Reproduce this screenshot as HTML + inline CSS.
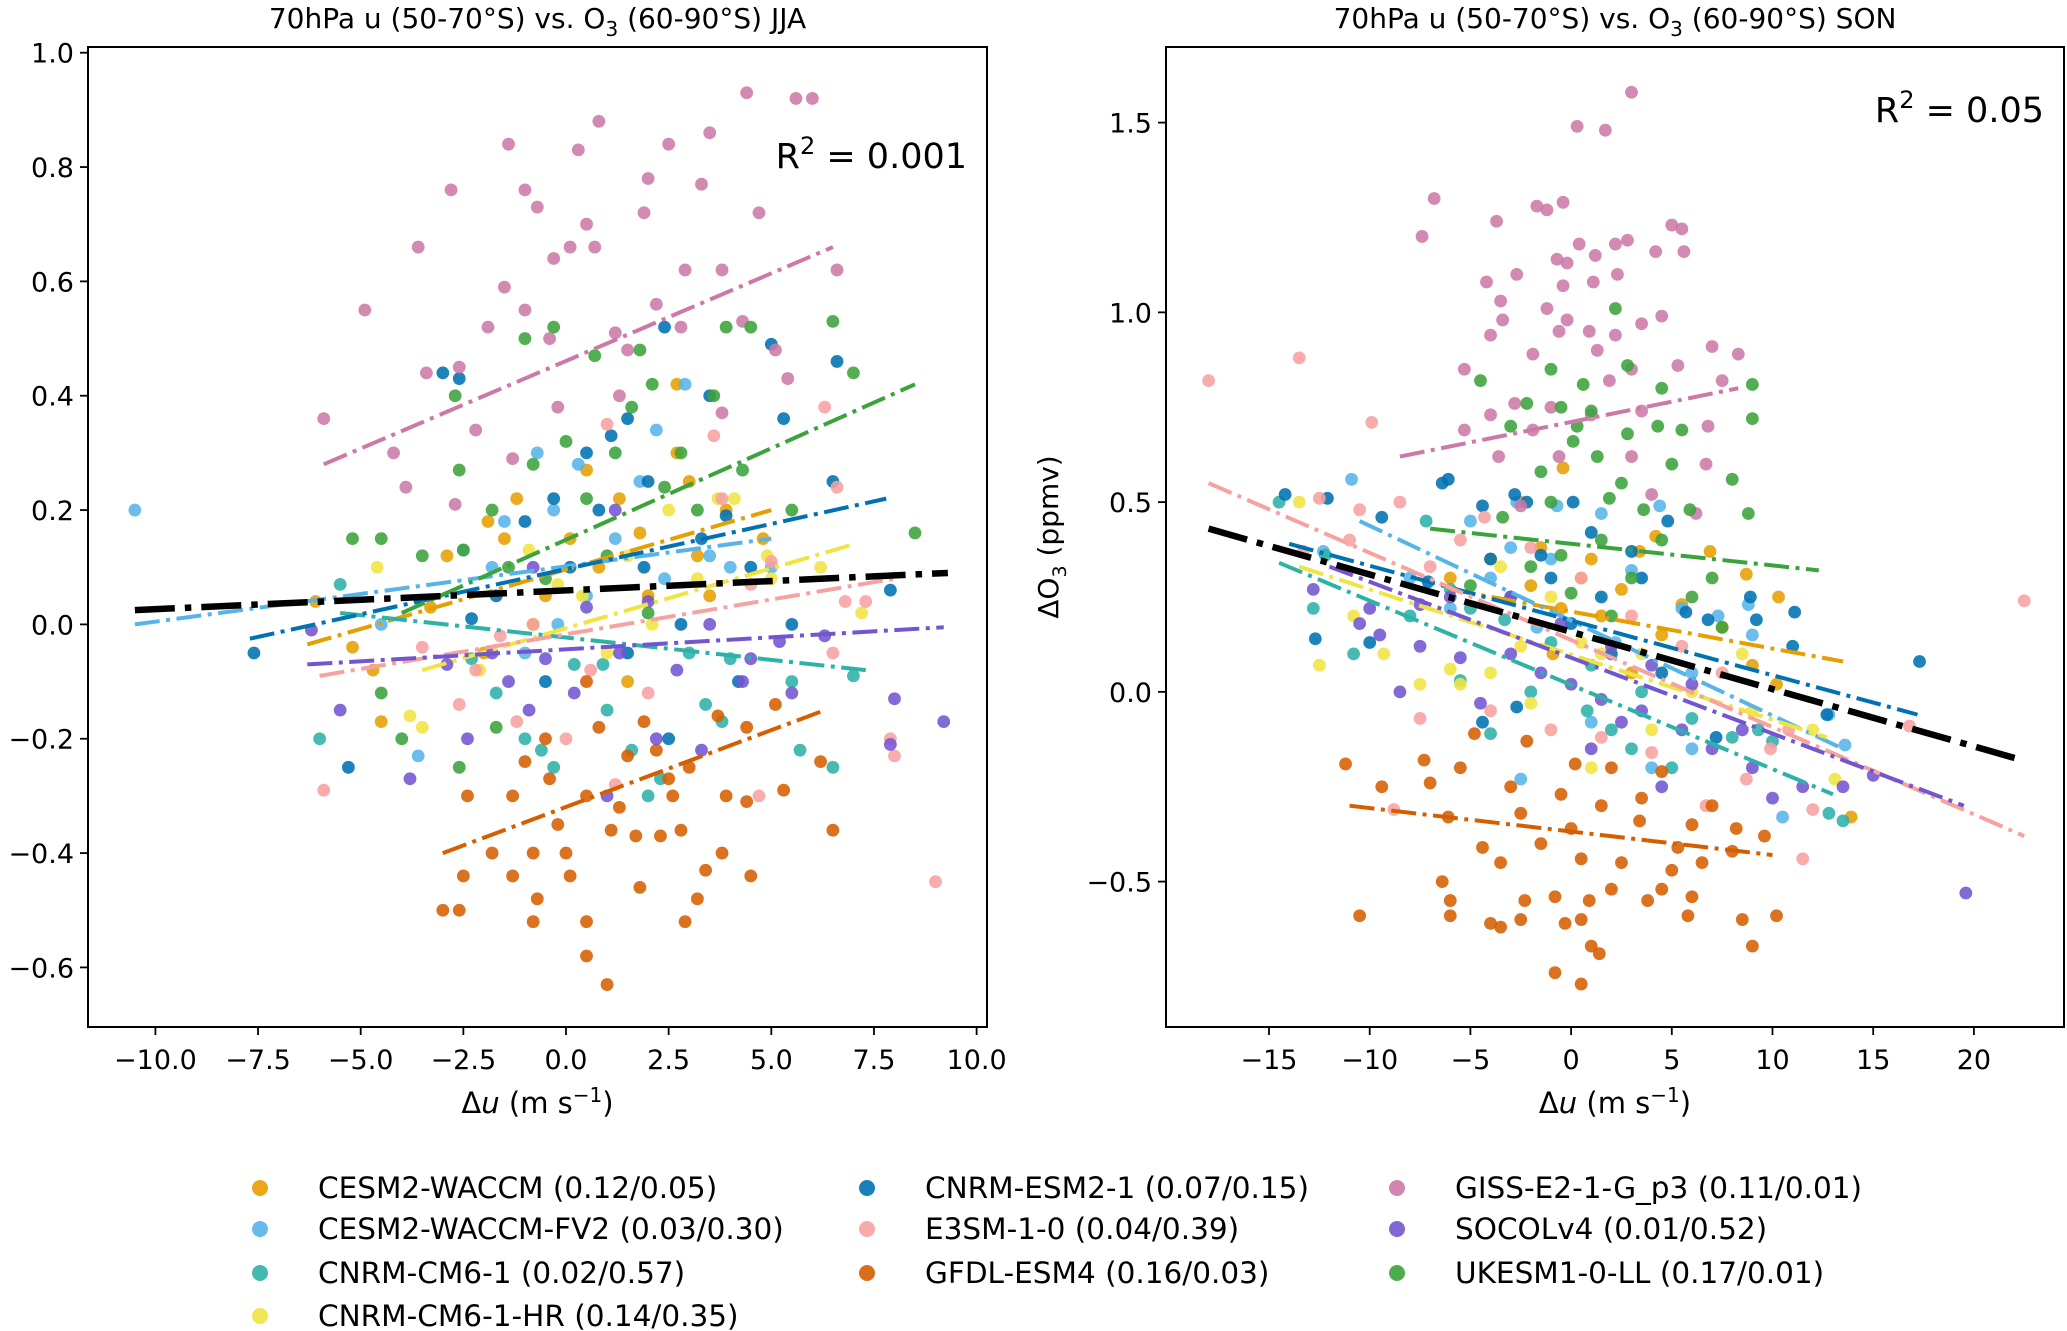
<!DOCTYPE html>
<html><head><meta charset="utf-8">
<style>
html,body{margin:0;padding:0;background:#fff;}
svg{display:block;font-family:"DejaVu Sans","Liberation Sans",sans-serif;}
</style></head>
<body>
<svg id="chart" width="2067" height="1331" viewBox="0 0 2067 1331" xmlns="http://www.w3.org/2000/svg"></svg>
<script>
const models = ["CESM2-WACCM (0.12/0.05)","CESM2-WACCM-FV2 (0.03/0.30)","CNRM-CM6-1 (0.02/0.57)","CNRM-CM6-1-HR (0.14/0.35)","CNRM-ESM2-1 (0.07/0.15)","E3SM-1-0 (0.04/0.39)","GFDL-ESM4 (0.16/0.03)","GISS-E2-1-G_p3 (0.11/0.01)","SOCOLv4 (0.01/0.52)","UKESM1-0-LL (0.17/0.01)"];
const colors = ["#E69F00","#56B4E9","#2DB2A8","#F0E442","#0072B2","#F7A1A1","#D55E00","#CC79A7","#7355D0","#3BA33B"];
const jjaPts = [
[[-5.2,-0.04],[-4.5,-0.17],[-2.9,0.12],[-1.9,0.18],[-1.5,0.15],[0.1,0.15],[1.3,0.22],[2.7,0.3],[2.7,0.42],[3,0.25],[3.9,0.2],[0.8,0.1],[-0.5,0.05],[2,0.05],[-6.1,0.04],[-4.7,-0.08],[-2,-0.05],[1.5,-0.1],[3.5,0.05],[4.8,0.15],[-3.3,0.03],[-1.2,0.22],[0.5,0.27],[1.8,0.16],[3.2,0.12],[-0.8,0.0]],
[[-10.5,0.2],[2.9,0.42],[-0.7,0.3],[0.3,0.28],[1.8,0.25],[3.5,0.12],[-2.5,0.13],[-1.5,0.18],[0.5,0.05],[2.4,0.08],[-4.5,0.0],[-1,-0.05],[4,0.1],[-3.6,-0.23],[1.2,0.15],[-0.2,0.0],[5,0.1],[-0.3,0.2],[2.2,0.34],[-1.8,0.1]],
[[-5.5,0.07],[-6,-0.2],[-0.6,-0.22],[1,-0.15],[2,-0.3],[3.8,-0.17],[5.7,-0.22],[6.5,-0.25],[4,-0.06],[7,-0.09],[3,-0.05],[0.2,-0.07],[-1,-0.2],[-2.3,-0.06],[2.3,-0.27],[-0.3,-0.25],[5.5,-0.1],[1.6,-0.22],[0.9,-0.07],[-1.7,-0.12],[3.4,-0.14]],
[[-4.6,0.1],[4.1,0.22],[4.9,0.12],[6.2,0.1],[7.2,0.02],[-3.8,-0.16],[-2.1,-0.08],[0.4,0.05],[1.5,0.12],[2.5,0.2],[-0.9,0.13],[3.2,0.08],[5,0.08],[-3.5,-0.18],[1,-0.05],[3.7,0.22],[-0.2,0.07],[2.1,0.0]],
[[-7.6,-0.05],[-5.3,-0.25],[-3,0.44],[-2.6,0.43],[2.4,0.52],[5,0.49],[3.5,0.4],[6.6,0.46],[5.3,0.36],[0.5,0.3],[1.1,0.33],[2,0.25],[-1,0.18],[3.3,0.15],[4.5,0.1],[6.5,0.25],[0.1,0.1],[-1.7,0.05],[2.8,0.0],[4.2,-0.1],[5.5,0.0],[7.9,0.06],[1.5,-0.05],[-0.5,-0.1],[2.5,-0.2],[-2.3,0.01],[1.5,0.36],[0.8,0.2],[-0.3,0.22],[3.9,0.19],[1.9,0.1]],
[[-5.9,-0.29],[-2.6,-0.14],[-2.2,-0.08],[-1.2,-0.17],[-3.5,-0.04],[0,-0.2],[1.2,-0.28],[3.8,0.22],[3.6,0.33],[5,0.11],[6.3,0.38],[6.6,0.24],[7.3,0.04],[7.9,-0.2],[8,-0.23],[9,-0.45],[6.5,-0.05],[4.7,-0.3],[2,-0.12],[-0.8,0.0],[1,0.35],[4.5,0.07],[6.8,0.04],[-1.6,-0.02],[0.6,-0.08]],
[[1,-0.63],[0.5,-0.58],[0.5,-0.52],[-0.8,-0.52],[2.9,-0.52],[-3,-0.5],[-2.6,-0.5],[-2.5,-0.44],[-1.3,-0.44],[-0.7,-0.48],[0.1,-0.44],[1.8,-0.46],[3.2,-0.48],[3.4,-0.43],[4.5,-0.44],[-0.8,-0.4],[0,-0.4],[-1.8,-0.4],[1.7,-0.37],[2.3,-0.37],[3.8,-0.4],[-2.4,-0.3],[-1.3,-0.3],[0.5,-0.3],[1.3,-0.32],[2.6,-0.3],[3.9,-0.3],[4.4,-0.31],[5.3,-0.29],[6.5,-0.36],[-0.4,-0.27],[1.5,-0.23],[2.2,-0.22],[3,-0.25],[4.4,-0.18],[5.1,-0.14],[6.2,-0.24],[-1,-0.24],[0.8,-0.18],[1.9,-0.17],[3.7,-0.16],[0.5,-0.1],[-0.2,-0.35],[1.1,-0.36],[2.8,-0.36],[-0.5,-0.2],[2.5,-0.27]],
[[4.4,0.93],[5.6,0.92],[6,0.92],[0.8,0.88],[-1.4,0.84],[2.5,0.84],[3.5,0.86],[-2.8,0.76],[-1,0.76],[-0.7,0.73],[2,0.78],[3.3,0.77],[0.3,0.83],[-3.6,0.66],[-4.9,0.55],[0.5,0.7],[1.9,0.72],[4.7,0.72],[-0.3,0.64],[-1.5,0.59],[2.9,0.62],[3.8,0.62],[-0.4,0.5],[1.5,0.48],[2.8,0.52],[5.1,0.48],[-2.6,0.45],[-3.4,0.44],[-5.9,0.36],[-4.2,0.3],[-3.9,0.24],[-2.2,0.34],[1.3,0.4],[4.3,0.53],[-1,0.55],[0.1,0.66],[5.4,0.43],[-1.3,0.29],[-0.2,0.38],[3.8,0.37],[-2.7,0.21],[6.6,0.62],[2.2,0.56],[0.7,0.66],[-1.9,0.52],[1.2,0.51]],
[[-5.5,-0.15],[-3.8,-0.27],[-2.4,-0.2],[-1.4,-0.1],[-0.5,-0.06],[0.2,-0.12],[1.3,-0.05],[2.2,-0.2],[3.3,-0.22],[4.3,-0.1],[5.2,-0.03],[6.3,-0.02],[7.9,-0.21],[8,-0.13],[9.2,-0.17],[-6.2,-0.01],[-0.8,0.1],[1.2,0.2],[2,0.04],[3.5,0.0],[5.5,-0.12],[-2.9,-0.07],[0.5,0.03],[1,-0.3],[4.5,-0.06],[-1.8,-0.05],[-0.9,-0.15],[2.7,-0.08]],
[[6.5,0.53],[7,0.44],[-1,0.5],[-0.3,0.52],[4.5,0.52],[3.9,0.52],[0.7,0.47],[1.8,0.48],[2.1,0.42],[-2.7,0.4],[3.6,0.4],[4.3,0.27],[-2.6,0.27],[-4.5,0.15],[-5.2,0.15],[-3.5,0.12],[-0.8,0.28],[1.2,0.3],[0.5,0.22],[2.8,0.3],[3.2,0.2],[-1.8,0.2],[5.5,0.2],[8.5,0.16],[-2.5,0.13],[-4.5,-0.12],[-4,-0.2],[-1.7,-0.18],[-2.6,-0.25],[1,0.12],[-0.5,0.08],[2,0.02],[0,0.32],[1.6,0.38],[-1.4,0.1],[2.4,0.24]]
];
const sonPts = [
[[-0.4,0.59],[-2.5,0.5],[-1.5,0.38],[1,0.35],[3.4,0.37],[4.2,0.41],[6.9,0.37],[8.7,0.31],[10.3,0.25],[13.9,-0.33],[10.2,0.02],[7.5,0.17],[5.5,0.23],[2.5,0.27],[-0.5,0.22],[-4,0.35],[-6,0.3],[4.5,0.15],[1.5,0.2],[9,0.07],[-0.9,0.1],[3,0.05],[0.5,0.3],[-2,0.28]],
[[-10.9,0.56],[-2.7,0.5],[4.4,0.49],[-0.7,0.49],[1.5,0.47],[-5,0.45],[-3,0.38],[-1,0.35],[3,0.32],[5.5,0.22],[7.3,0.2],[8.8,0.23],[9,0.15],[-8,0.3],[-6,0.22],[-1.7,0.17],[2.2,0.13],[6,0.05],[12.8,-0.06],[13.6,-0.14],[10.5,-0.33],[6,-0.15],[1,-0.08],[-2.5,-0.23],[4,-0.2],[-12.3,0.37],[-4,0.3]],
[[-14.5,0.5],[-12.8,0.22],[-10.8,0.1],[-12.2,0.36],[-7.2,0.45],[-6,0.27],[-5,0.22],[-3.3,0.19],[-1,0.13],[1,0.07],[3.5,0.0],[6,-0.07],[8,-0.12],[10,-0.13],[12.8,-0.32],[13.5,-0.34],[-5.5,0.03],[-2,0.0],[2,-0.1],[5,-0.2],[9.3,-0.1],[-8,0.2],[-4,-0.11],[0.8,-0.05],[3,-0.15]],
[[-13.5,0.5],[-12.5,0.07],[-9.3,0.1],[-6,0.06],[-4,0.05],[-3.5,0.33],[-1,0.25],[0.5,0.13],[1.5,0.1],[3.5,0.1],[6,0.0],[8.5,0.1],[9,-0.05],[12,-0.1],[13.1,-0.23],[-2,-0.03],[1,-0.2],[4,-0.1],[-7.5,0.02],[-5.5,0.02],[-2.5,0.12],[-10.8,0.2]],
[[-14.2,0.52],[-12.1,0.51],[-9.4,0.46],[-6.4,0.55],[-6.1,0.56],[-4.4,0.49],[-2.8,0.52],[-2.2,0.5],[0.1,0.5],[-12.7,0.14],[-10,0.13],[-7.1,0.29],[-4,0.35],[-1.5,0.36],[1,0.42],[3,0.37],[4.8,0.45],[5.7,0.21],[6.8,0.19],[8.9,0.25],[9.2,0.19],[11.1,0.21],[11,0.12],[17.3,0.08],[12.7,-0.06],[4.5,0.05],[2,0.1],[-1,0.3],[-4.4,-0.08],[-2.7,-0.04],[0,0.18],[7.2,-0.12],[3.5,0.3],[-3,0.25],[1.5,0.25]],
[[-18,0.82],[-13.5,0.88],[-9.9,0.71],[-12.5,0.51],[-8.5,0.5],[-10.5,0.48],[-11,0.4],[-13.3,0.37],[-7,0.33],[-4.3,0.46],[-2,0.38],[0.5,0.3],[3,0.2],[5.5,0.12],[7.5,0.05],[10.8,-0.1],[12,-0.31],[11.5,-0.44],[16.8,-0.09],[22.5,0.24],[8.7,-0.23],[6.7,-0.3],[4,-0.16],[1.5,-0.12],[-1,-0.1],[-4,-0.05],[-7.5,-0.07],[-5.5,0.4],[9.9,-0.15],[-8.8,-0.31]],
[[0.5,-0.77],[-0.8,-0.74],[1.4,-0.69],[9,-0.67],[1,-0.67],[-2.5,-0.6],[-10.5,-0.59],[-6,-0.59],[-3.5,-0.62],[-4,-0.61],[-0.3,-0.61],[0.5,-0.6],[5.8,-0.59],[8.5,-0.6],[10.2,-0.59],[-6,-0.55],[-2.3,-0.55],[-0.8,-0.54],[0.9,-0.55],[3.8,-0.55],[6,-0.54],[-6.4,-0.5],[2,-0.52],[4.5,-0.52],[-4.4,-0.41],[-3.5,-0.45],[-1.5,-0.4],[0.5,-0.44],[2.5,-0.45],[5,-0.47],[6.5,-0.45],[8,-0.42],[-7,-0.24],[-5.5,-0.2],[-3,-0.25],[-0.5,-0.27],[1.5,-0.3],[3.5,-0.28],[7,-0.3],[-11.2,-0.19],[-9.4,-0.25],[-7.3,-0.18],[-4.8,-0.11],[-2.2,-0.13],[0.2,-0.19],[2,-0.2],[4.5,-0.21],[6,-0.35],[8.2,-0.36],[-6.1,-0.33],[-2.5,-0.32],[0,-0.36],[3.4,-0.34],[5.3,-0.41],[9.6,-0.38]],
[[3,1.58],[0.3,1.49],[1.7,1.48],[-6.8,1.3],[-7.4,1.2],[-3.7,1.24],[-1.7,1.28],[-0.4,1.29],[-1.2,1.27],[5,1.23],[5.5,1.22],[0.4,1.18],[2.2,1.18],[2.8,1.19],[4.2,1.16],[5.6,1.16],[-0.7,1.14],[1.2,1.15],[-0.2,1.13],[-4.2,1.08],[-2.7,1.1],[1.1,1.08],[2.3,1.1],[-3.5,1.03],[-0.4,1.07],[-3.4,0.98],[-1.2,1.01],[-0.2,0.98],[4.5,0.99],[3.5,0.97],[-4,0.94],[0.9,0.95],[2.2,0.94],[-1.9,0.89],[-0.6,0.95],[1.3,0.9],[7,0.91],[8.3,0.89],[5.3,0.86],[-5.3,0.85],[3,0.85],[1.9,0.82],[7.5,0.82],[-4,0.73],[-2.8,0.76],[-1,0.75],[1,0.73],[3.5,0.74],[6.8,0.7],[-5.3,0.69],[-1.9,0.69],[-0.6,0.62],[-3.6,0.62],[3,0.62],[6.7,0.6],[4,0.52],[-2.5,0.49],[6.2,0.47]],
[[19.6,-0.53],[-12.8,0.27],[-10,0.22],[-10.5,0.18],[-9.5,0.15],[-7.5,0.12],[-5.5,0.09],[-3,0.1],[-1.5,0.05],[0,0.02],[1.5,-0.02],[3.5,-0.05],[5.5,-0.1],[7,-0.15],[9,-0.2],[11.5,-0.25],[13.5,-0.25],[15,-0.22],[-6,0.25],[-3,0.25],[-0.5,0.18],[2,0.12],[4,0.07],[6,0.02],[8.5,-0.1],[10,-0.28],[-8.5,0.0],[-4.5,-0.03],[1,-0.15],[4.5,-0.25],[-7.5,0.23],[2.5,-0.08]],
[[2.2,1.01],[-4.5,0.82],[-1,0.85],[2.8,0.86],[0.6,0.81],[9,0.81],[1,0.74],[-2.2,0.76],[-0.5,0.75],[0.3,0.7],[4.5,0.8],[-3,0.7],[0.1,0.66],[2.8,0.68],[4.3,0.7],[5.5,0.69],[1.3,0.62],[5,0.6],[8,0.56],[8.8,0.47],[-1.5,0.58],[1.9,0.51],[3.6,0.48],[5.9,0.48],[-3.4,0.46],[1.5,0.4],[4.5,0.4],[7,0.3],[-2,0.33],[3,0.3],[0,0.26],[6,0.25],[2,0.2],[7.5,0.17],[-5,0.28],[-0.5,0.36],[9,0.72],[-1,0.5],[2.5,0.55]]
];
const jjaFits = [[-6.3,-0.035,5,0.2],[-10.5,0.0,5,0.15],[-5.5,0.02,7.3,-0.08],[-3.5,-0.08,7,0.14],[-7.7,-0.025,7.8,0.22],[-6,-0.09,8,0.08],[-3,-0.4,6.3,-0.15],[-5.9,0.28,6.5,0.66],[-6.3,-0.07,9.2,-0.005],[-4,0.02,8.5,0.42]];
const sonFits = [[-6,0.27,13.5,0.08],[-10.5,0.45,13.5,-0.15],[-14.5,0.34,13,-0.27],[-13.5,0.33,12.7,-0.12],[-14,0.39,17.2,-0.06],[-18,0.55,22.5,-0.38],[-11,-0.3,10,-0.43],[-8.5,0.62,8.3,0.8],[-12,0.33,19.5,-0.3],[-7,0.43,12.3,0.32]];
const jjaAll = [-10.5,0.025,9.3,0.09];
const sonAll = [-18,0.43,22.4,-0.18];
const jjaXTicks = [-10,-7.5,-5,-2.5,0,2.5,5,7.5,10];
const jjaYTicks = [-0.6,-0.4,-0.2,0,0.2,0.4,0.6,0.8,1.0];
const sonXTicks = [-15,-10,-5,0,5,10,15,20];
const sonYTicks = [-0.5,0,0.5,1.0,1.5];

const NS="http://www.w3.org/2000/svg";
const svg=document.getElementById('chart');
function mk(tag,attrs,parent){const e=document.createElementNS(NS,tag);for(const k in attrs)e.setAttribute(k,attrs[k]);(parent||svg).appendChild(e);return e;}
function fmt(v,d){return (v<0?"\u2212":"")+Math.abs(v).toFixed(d);}

const panels=[
 {name:'jja',box:[88,47,987,1027],xs:x=>566+41.06*x,ys:y=>52.7+(1-y)*571.7,pts:jjaPts,fits:jjaFits,all:jjaAll,xt:jjaXTicks,yt:jjaYTicks,xd:1,yd:1,title:'JJA',r2:'0.001',r2y:168,ylabel:false},
 {name:'son',box:[1166,47,2064,1027],xs:x=>1269+(x+15)*20.14,ys:y=>122.6+(1.5-y)*379.5,pts:sonPts,fits:sonFits,all:sonAll,xt:sonXTicks,yt:sonYTicks,xd:0,yd:1,title:'SON',r2:'0.05',r2y:122,ylabel:true}
];
panels.forEach(p=>{
 const [x0,y0,x1,y1]=p.box;
 const g=mk('g',{});
 
 
 const clipId='clip-'+p.name;
 const cp=mk('clipPath',{id:clipId},g);mk('rect',{x:x0,y:y0,width:x1-x0,height:y1-y0},cp);
 const pg=mk('g',{'clip-path':'url(#'+clipId+')'},g);
 
 
 p.pts.forEach((arr,mi)=>{
  arr.forEach(pt=>{
   const c=mk('circle',{cx:p.xs(pt[0]),cy:p.ys(pt[1]),r:6.4,fill:colors[mi],'fill-opacity':0.88},pg);
   
   
  });
 });
 p.fits.forEach((f,mi)=>{
  const l=mk('line',{x1:p.xs(f[0]),y1:p.ys(f[1]),x2:p.xs(f[2]),y2:p.ys(f[3]),stroke:colors[mi],'stroke-width':4,'stroke-dasharray':'25,6.5,4,6.5'},pg);
  
  
 });
 const a=p.all;
 const bl=mk('line',{x1:p.xs(a[0]),y1:p.ys(a[1]),x2:p.xs(a[2]),y2:p.ys(a[3]),stroke:'#000','stroke-width':6.5,'stroke-dasharray':'40,10,6.5,10'},pg);
 
 
 const fr=mk('rect',{x:x0,y:y0,width:x1-x0,height:y1-y0,fill:'none',stroke:'#000','stroke-width':2},g);
 
 
 p.xt.forEach(v=>{
  const X=p.xs(v);
  mk('line',{x1:X,y1:y1,x2:X,y2:y1+8,stroke:'#000','stroke-width':1.8},g);
  const t=mk('text',{x:X,y:y1+42,'font-size':27,'text-anchor':'middle',fill:'#000'},g);
  t.textContent=fmt(v,p.xd);
  
  
 });
 p.yt.forEach(v=>{
  const Y=p.ys(v);
  mk('line',{x1:x0-8,y1:Y,x2:x0,y2:Y,stroke:'#000','stroke-width':1.8},g);
  const t=mk('text',{x:x0-14,y:Y+10,'font-size':27,'text-anchor':'end',fill:'#000'},g);
  t.textContent=fmt(v,p.yd);
  
  
 });
 const cx=(x0+x1)/2;
 const tt=mk('text',{x:cx,y:28,'font-size':28,'text-anchor':'middle',fill:'#000'},g);
 tt.innerHTML='70hPa u (50-70°S) vs. O<tspan font-size="20" dy="8">3</tspan><tspan dy="-8"> (60-90°S) '+p.title+'</tspan>';
 
 
 const xl=mk('text',{x:cx,y:1113,'font-size':29,'text-anchor':'middle',fill:'#000'},g);
 xl.innerHTML='Δ<tspan font-style="italic">u</tspan> (m s<tspan font-size="20" dy="-11">−1</tspan><tspan dy="11">)</tspan>';
 
 
 const r=mk('text',{x:x1-20,y:p.r2y,'font-size':35,'text-anchor':'end',fill:'#000'},g);
 r.innerHTML='R<tspan font-size="24" dy="-14">2</tspan><tspan dy="14"> = '+p.r2+'</tspan>';
 
 
 if(p.ylabel){
  const yl=mk('text',{x:0,y:0,'font-size':28,'text-anchor':'middle',fill:'#000',transform:'translate(1058,537) rotate(-90)'},g);
  yl.innerHTML='ΔO<tspan font-size="19" dy="8">3</tspan><tspan dy="-8"> (ppmv)</tspan>';
  
  
 }
});
const lg=mk('g',{});


const colX=[260,867,1397], rowY=[1188,1229,1273,1316];
const order=[[0,0,0],[1,0,1],[2,0,2],[3,0,3],[4,1,0],[5,1,1],[6,1,2],[7,2,0],[8,2,1],[9,2,2]];
order.forEach(o=>{
 const [mi,c,r]=o;
 const e=mk('g',{},lg);
 
 
 mk('circle',{cx:colX[c],cy:rowY[r],r:8,fill:colors[mi],'fill-opacity':0.9},e);
 const t=mk('text',{x:colX[c]+58,y:rowY[r]+10,'font-size':29.5,fill:'#000'},e);
 t.textContent=models[mi];
});
</script>
</body></html>
